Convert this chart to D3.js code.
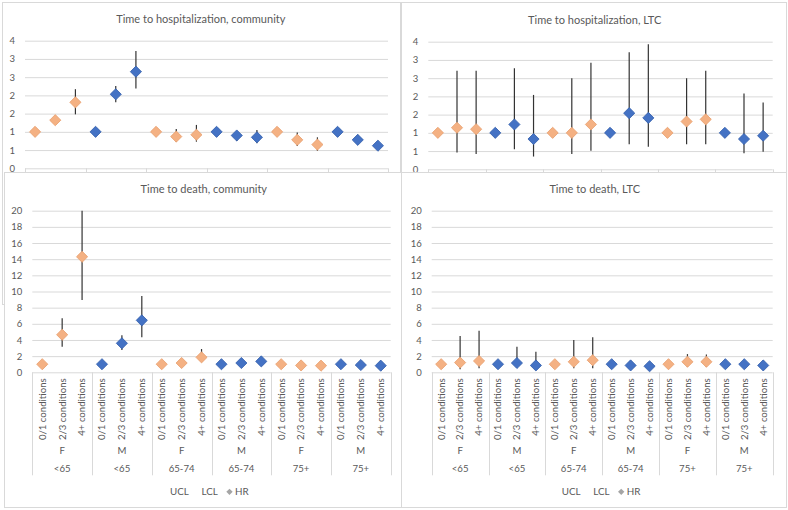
<!DOCTYPE html>
<html><head><meta charset="utf-8">
<script src="https://cdn.jsdelivr.net/npm/d3@7"></script>
<style>body{margin:0;background:#fff}svg{display:block;font-family:Lato,"Open Sans",sans-serif}</style>
</head><body><svg id="c" width="788" height="510"></svg>
<script>
// ---------- data ----------
const conditions = ["0/1 conditions","2/3 conditions","4+ conditions"];
const sexes = ["F","M","F","M","F","M"];
const ages = ["<65","<65","65-74","65-74","75+","75+"];

const hospTicks = [0,0.5,1,1.5,2,2.5,3,3.5];
const hospTickLabels = ["0","1","1","2","2","3","3","4"];
const deathTicks = [0,2,4,6,8,10,12,14,16,18,20];
const deathTickLabels = ["0","2","4","6","8","10","12","14","16","18","20"];

const hospCommHR  = [1.0,1.32,1.81, 1.0,2.03,2.65, 1.0,0.87,0.92, 1.0,0.90,0.85, 1.0,0.78,0.65, 1.0,0.78,0.62];
const hospCommUCL = [1.0,1.42,2.17, 1.0,2.26,3.22, 1.0,1.08,1.19, 1.0,1.00,1.05, 1.0,0.98,0.85, 1.0,0.92,0.73];
const hospCommLCL = [1.0,1.22,1.48, 1.0,1.81,2.19, 1.0,0.73,0.73, 1.0,0.75,0.69, 1.0,0.61,0.48, 1.0,0.65,0.50];

const hospLtcHR  = [1.0,1.14,1.10, 1.0,1.23,0.83, 1.0,1.00,1.23, 1.0,1.54,1.41, 1.0,1.31,1.37, 1.0,0.83,0.92];
const hospLtcUCL = [1.0,2.70,2.70, 1.0,2.77,2.04, 1.0,2.50,2.92, 1.0,3.21,3.43, 1.0,2.50,2.70, 1.0,2.08,1.83];
const hospLtcLCL = [1.0,0.46,0.42, 1.0,0.55,0.35, 1.0,0.42,0.51, 1.0,0.69,0.62, 1.0,0.69,0.69, 1.0,0.44,0.48];

const deathCommHR  = [1.0,4.65,14.3, 1.0,3.59,6.43, 1.0,1.15,1.85, 1.0,1.15,1.35, 1.0,0.85,0.82, 1.0,0.90,0.82];
const deathCommUCL = [1.0,6.68,20.0, 1.0,4.60,9.44, 1.0,1.50,2.88, 1.0,1.40,1.70, 1.0,1.10,1.00, 1.0,1.10,1.00];
const deathCommLCL = [1.0,3.17,8.95, 1.0,2.76,4.33, 1.0,0.90,1.30, 1.0,0.95,1.05, 1.0,0.65,0.65, 1.0,0.75,0.65];

const deathLtcHR  = [1.0,1.20,1.40, 1.0,1.15,0.85, 1.0,1.30,1.50, 1.0,0.85,0.75, 1.0,1.30,1.30, 1.0,1.00,0.85];
const deathLtcUCL = [1.0,4.50,5.15, 1.0,3.17,2.55, 1.0,4.00,4.33, 1.0,1.10,1.00, 1.0,2.25,2.20, 1.0,1.30,1.10];
const deathLtcLCL = [1.0,0.37,0.50, 1.0,0.60,0.30, 1.0,0.50,0.50, 1.0,0.60,0.50, 1.0,0.70,0.70, 1.0,0.70,0.60];

const legendLabels = ["UCL","LCL","HR"];

// ---------- drawing ----------
const svg = d3.select("#c");
const keys = d3.range(18);
const txt = "#595959", grid = "#d9d9d9";
const fillF = "#F4B183", strokeF = "#E8A070", fillM = "#4472C4", strokeM = "#3561AE";

function panel(o){
  const g = svg.append("g");
  g.append("rect").attr("x",o.box[0]+.5).attr("y",o.box[1]+.5)
    .attr("width",o.box[2]-o.box[0]).attr("height",o.box[3]-o.box[1])
    .attr("fill","#fff").attr("stroke",grid);
  const x = d3.scaleBand().domain(keys).range([o.x0,o.x1]);
  const y = d3.scaleLinear().domain([0,o.max]).range([o.yb,o.yt]);
  const ya = d3.axisLeft(y).tickValues(o.ticks).tickFormat((d,i)=>o.tickLabels[i])
    .tickSize(-(o.x1-o.x0)).tickPadding(10);
  const ag = g.append("g").attr("transform",`translate(${o.x0},0)`).call(ya);
  ag.select(".domain").remove();
  ag.selectAll("line").attr("stroke",grid);
  ag.selectAll("text").attr("fill",txt).style("font-size","9.5px").style("font-family","Lato");
  // group separators
  const seps = d3.range(7).map(i => i<6 ? x(i*3) : o.x1);
  g.selectAll(".sep").data(seps).join("line")
    .attr("x1",d=>Math.round(d)+.5).attr("x2",d=>Math.round(d)+.5)
    .attr("y1",o.yb).attr("y2",o.yb+103).attr("stroke",grid);
  // category labels
  g.selectAll(".cat").data(keys).join("text")
    .attr("transform",d=>`translate(${x(d)+x.bandwidth()/2},${o.yb+6}) rotate(-90)`)
    .attr("text-anchor","end").attr("dy","0.35em")
    .attr("fill",txt).style("font-size","9.6px")
    .text(d=>conditions[d%3]);
  g.selectAll(".sex").data(sexes).join("text")
    .attr("x",(d,i)=>(seps[i]+seps[i+1])/2).attr("y",o.yb+78).attr("dy","0.35em")
    .attr("text-anchor","middle").attr("fill",txt).style("font-size","9.6px").text(d=>d);
  g.selectAll(".age").data(ages).join("text")
    .attr("x",(d,i)=>(seps[i]+seps[i+1])/2).attr("y",o.yb+96).attr("dy","0.35em")
    .attr("text-anchor","middle").attr("fill",txt).style("font-size","9.6px").text(d=>d);
  // error bars
  g.selectAll(".err").data(keys).join("line")
    .attr("x1",d=>x(d)+x.bandwidth()/2).attr("x2",d=>x(d)+x.bandwidth()/2)
    .attr("y1",d=>y(o.ucl[d])).attr("y2",d=>y(o.lcl[d]))
    .attr("stroke","#333").attr("stroke-width",1.2);
  // diamonds
  const sym = d3.symbol(d3.symbolSquare, 62);
  g.selectAll(".pt").data(keys).join("path")
    .attr("d",sym)
    .attr("transform",d=>`translate(${x(d)+x.bandwidth()/2},${y(o.hr[d])}) rotate(45)`)
    .attr("fill",d=>sexes[Math.floor(d/3)]==="F"?fillF:fillM)
    .attr("stroke",d=>sexes[Math.floor(d/3)]==="F"?strokeF:strokeM)
    .attr("stroke-width",0.8);
  // title
  g.append("text").attr("x",o.tx).attr("y",o.ty).attr("text-anchor","middle")
    .attr("fill",txt).style("font-size","11px").text(o.title);
  // legend
  const ly = o.yb+119.5;
  g.append("text").attr("x",o.lx).attr("y",ly).attr("dy","0.35em").attr("fill",txt).style("font-size","9.8px").text(legendLabels[0]);
  g.append("text").attr("x",o.lx+31.5).attr("y",ly).attr("dy","0.35em").attr("fill",txt).style("font-size","9.8px").text(legendLabels[1]);
  g.append("path").attr("d",d3.symbol(d3.symbolSquare,20)).attr("transform",`translate(${o.lx+59.5},${ly}) rotate(45)`).attr("fill","#a5a5a5");
  g.append("text").attr("x",o.lx+65).attr("y",ly).attr("dy","0.35em").attr("fill",txt).style("font-size","9.8px").text(legendLabels[2]);
}

panel({box:[2,2,400,304], x0:25, x1:388, yt:40.7, yb:168.3, max:3.5, ticks:hospTicks, tickLabels:hospTickLabels,
  hr:hospCommHR, ucl:hospCommUCL, lcl:hospCommLCL, title:"Time to hospitalization, community", tx:200.8, ty:23, lx:166});
panel({box:[401,2,786,304], x0:428.3, x1:772.7, yt:41.7, yb:169.3, max:3.5, ticks:hospTicks, tickLabels:hospTickLabels,
  hr:hospLtcHR, ucl:hospLtcUCL, lcl:hospLtcLCL, title:"Time to hospitalization, LTC", tx:594.7, ty:23.5, lx:561.7});
panel({box:[4,172,401,507], x0:32.3, x1:390.7, yt:210.7, yb:372.3, max:20, ticks:deathTicks, tickLabels:deathTickLabels,
  hr:deathCommHR, ucl:deathCommUCL, lcl:deathCommLCL, title:"Time to death, community", tx:203.8, ty:193.3, lx:170});
panel({box:[401,172,786,507], x0:431.7, x1:772.7, yt:210.7, yb:372.3, max:20, ticks:deathTicks, tickLabels:deathTickLabels,
  hr:deathLtcHR, ucl:deathLtcUCL, lcl:deathLtcLCL, title:"Time to death, LTC", tx:594.7, ty:193.3, lx:561.7});
</script>
</body></html>
